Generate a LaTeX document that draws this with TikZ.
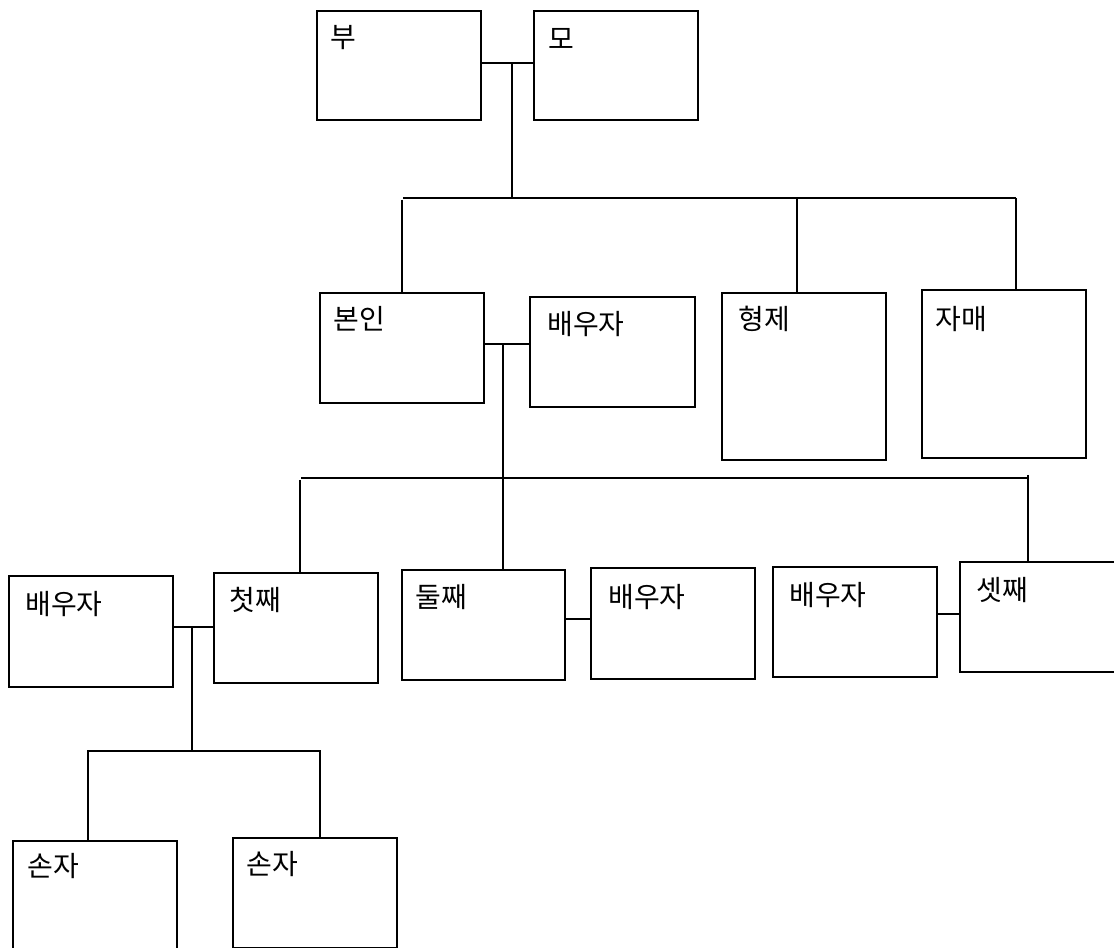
\documentclass[tikz,border=0pt]{standalone}
\usepackage{fontspec}
\newfontfamily\kr{Noto Sans CJK KR}
\begin{document}
\begin{tikzpicture}[x=0.75pt,y=-0.75pt,
  person/.style={draw=black,line width=1.6pt,rectangle,anchor=north west,inner sep=0pt,minimum width=#1},
  lbl/.style={anchor=west,inner sep=0pt,font=\kr\fontsize{21}{25}\selectfont},
  link/.style={draw=black,line width=2pt}]
\useasboundingbox (0,0) rectangle (1114,948);
\clip (0,0) rectangle (1114,948);
% generation 1
\node[person=164pt*0.75,minimum height=109*0.75pt] (bu) at (316,10) {};
\node[person=164pt*0.75,minimum height=109*0.75pt] (mo) at (533,10) {};
\node[lbl] (tbu) at (330,38) {부};
\node[lbl] (tmo) at (548,39) {모};
% generation 2
\node[person=164pt*0.75,minimum height=110*0.75pt] (me) at (319,292) {};
\node[person=165pt*0.75,minimum height=110*0.75pt] (sp1) at (529,296) {};
\node[person=164pt*0.75,minimum height=167*0.75pt] (hy) at (721,292) {};
\node[person=164pt*0.75,minimum height=168*0.75pt] (ja) at (921,289) {};
\node[lbl] (tme) at (333,319) {본인};
\node[lbl] (tsp1) at (547,324) {배우자};
\node[lbl] (thy) at (738,319) {형제};
\node[lbl] (tja) at (935,319) {자매};
% generation 3
\node[person=164pt*0.75,minimum height=111*0.75pt] (spA) at (8,575) {};
\node[person=164pt*0.75,minimum height=110*0.75pt] (c1) at (213,572) {};
\node[person=163pt*0.75,minimum height=110*0.75pt] (c2) at (401,569) {};
\node[person=164pt*0.75,minimum height=111*0.75pt] (spB) at (590,567) {};
\node[person=164pt*0.75,minimum height=110*0.75pt] (spC) at (772,566) {};
\node[person=172pt*0.75,minimum height=110*0.75pt] (c3) at (959,561) {};
\node[lbl] (tspA) at (25,604) {배우자};
\node[lbl] (tc1) at (229,600) {첫째};
\node[lbl] (tc2) at (415,597) {둘째};
\node[lbl] (tspB) at (608,597) {배우자};
\node[lbl] (tspC) at (789,595) {배우자};
\node[lbl] (tc3) at (976,590) {셋째};
% generation 4
\node[person=164pt*0.75,minimum height=125*0.75pt] (g1) at (12,840) {};
\node[person=164pt*0.75,minimum height=110*0.75pt] (g2) at (232,837) {};
\node[lbl] (tg1) at (27,866) {손자};
\node[lbl] (tg2) at (246,864) {손자};
% junction coordinates
\coordinate (j1) at (512,63);
\coordinate (s1L) at (403,198);
\coordinate (s1R) at (1016,198);
\coordinate (j2) at (503,344);
\coordinate (s2L) at (301,478);
\coordinate (s2R) at (1028,478);
\coordinate (j3) at (192,627);
\coordinate (s3L) at (87,751);
\coordinate (s3R) at (321,751);
% couple lines
\draw[link] (bu.east |- j1) -- (mo.west |- j1);
\draw[link] (me.east |- j2) -- (sp1.west |- j2);
\draw[link] (spA.east |- j3) -- (c1.west |- j3);
\draw[link] (c2.east |- 0,619) -- (spB.west |- 0,619);
\draw[link] (spC.east |- 0,614) -- (c3.west |- 0,614);
% descent lines
\draw[link] (j1) -- (j1 |- s1L);
\draw[link] (s1L) -- (s1R);
\draw[link] (402,200) -- (402,0 |- me.north);
\draw[link] (797,198) -- (797,0 |- hy.north);
\draw[link] (s1R) -- (s1R |- ja.north);
\draw[link] (j2) -- (j2 |- s2L);
\draw[link] (s2L) -- (s2R);
\draw[link] (300,480) -- (300,0 |- c1.north);
\draw[link] (503,478) -- (503,0 |- c2.north);
\draw[link] (1028,475) -- (1028,0 |- c3.north);
\draw[link] (j3) -- (j3 |- s3L);
\draw[link] (s3L) -- (s3R);
\draw[link] (88,751) -- (88,0 |- g1.north);
\draw[link] (320,751) -- (320,0 |- g2.north);
\end{tikzpicture}
\end{document}
